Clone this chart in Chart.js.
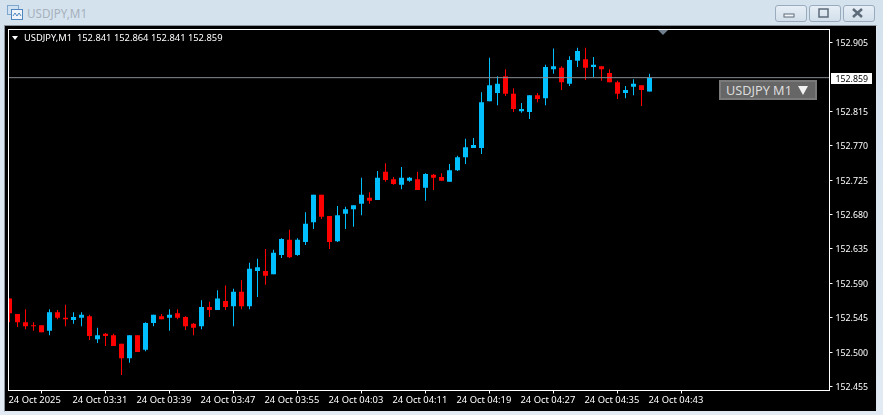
<!DOCTYPE html>
<html>
<head>
<meta charset="utf-8">
<title>USDJPY,M1</title>
<script src="https://cdn.jsdelivr.net/npm/chart.js@4"></script>
<style>
  html, body { margin: 0; padding: 0; }
  body { position: relative; width: 883px; height: 415px; overflow: hidden; background: linear-gradient(#d4e2ee, #e2ebf4); font-family: "Noto Sans", sans-serif; }
  #panel { position: absolute; left: 4px; top: 25px; width: 871px; height: 385px; background: #000; border: 1px solid #8c96a0; border-bottom-color: #dfe8f0; border-right-color: #dfe8f0; }
  #chart { position: absolute; left: 0; top: 0; }
  #caption { position: absolute; left: 27px; top: 5px; font-size: 11.7px; line-height: 16px; color: #a6b1bc; }
  #icon { position: absolute; left: 7px; top: 5px; }
  .btn { position: absolute; top: 5px; width: 30px; height: 15px; border: 1px solid #9aabbd; border-radius: 3px; background: linear-gradient(#e6eef6, #d2dfea); }
  .btn svg { position: absolute; left: 7px; top: 1px; }
  #legendMark { position: absolute; left: 12px; top: 36px; width: 0; height: 0; border-left: 3.5px solid transparent; border-right: 3.5px solid transparent; border-top: 4px solid #fff; }
  #legend { position: absolute; left: 24px; top: 31px; font-size: 9.35px; line-height: 14px; color: #fff; white-space: pre; }
  #shift { position: absolute; left: 658px; top: 30px; width: 0; height: 0; border-left: 5px solid transparent; border-right: 5px solid transparent; border-top: 5px solid #6f7f8e; }
  #symbolBtn { position: absolute; left: 719px; top: 80px; height: 16px; width: 89px; border: 2px solid #7a7a7a; background: #666; color: #dcdcdc; font-size: 12.7px; line-height: 17px; padding-left: 5px; white-space: pre; }
  #symbolBtn b { position: absolute; left: 77px; top: 4px; width: 0; height: 0; border-left: 5px solid transparent; border-right: 5px solid transparent; border-top: 9px solid #f2f2f2; }
</style>
</head>
<body>
<div id="panel"></div>
<svg id="icon" width="16" height="15" viewBox="0 0 16 15">
  <rect x="0.5" y="0.5" width="11" height="9" fill="#cfe0f0" stroke="#7fa6cc"/>
  <rect x="4.5" y="4.5" width="11" height="10" fill="#eef4fa" stroke="#4f86bd"/>
  <polyline points="6,11 8,8 10,11 12,8 14,11" fill="none" stroke="#4f86bd"/>
</svg>
<div id="caption">USDJPY,M1</div>
<div class="btn" style="left:775px"><svg width="16" height="13"><rect x="1" y="7" width="10" height="3" fill="#f4f7fa" stroke="#5d6b79"/></svg></div>
<div class="btn" style="left:809px"><svg width="16" height="13"><rect x="2" y="2" width="9" height="8" fill="none" stroke="#5d6b79" stroke-width="1.5"/></svg></div>
<div class="btn" style="left:843px"><svg width="16" height="13"><path d="M2 2 L11 10 M11 2 L2 10" stroke="#5d6b79" stroke-width="2.5"/></svg></div>
<canvas id="chart" width="883" height="415"></canvas>
<div id="legendMark"></div>
<div id="legend">USDJPY,M1  152.841 152.864 152.841 152.859</div>
<div id="shift"></div>
<div id="symbolBtn">USDJPY M1<b></b></div>
<script>
// one minute candles, 03:23 to 04:43, one tick label every 8 bars
var tickLabels = ['24 Oct 2025', '24 Oct 03:31', '24 Oct 03:39', '24 Oct 03:47', '24 Oct 03:55', '24 Oct 04:03',
    '24 Oct 04:11', '24 Oct 04:19', '24 Oct 04:27', '24 Oct 04:35', '24 Oct 04:43'];
var priceTicks = [152.905, 152.815, 152.770, 152.725, 152.680, 152.635, 152.590, 152.545, 152.500, 152.455];

var opens = [152.570, 152.550, 152.539, 152.535, 152.535, 152.528, 152.552, 152.545, 152.542, 152.545,
    152.547, 152.517, 152.524, 152.522, 152.511, 152.492, 152.522, 152.503, 152.538, 152.547,
    152.545, 152.551, 152.546, 152.537, 152.534, 152.559, 152.555, 152.567, 152.560, 152.579,
    152.560, 152.606, 152.606, 152.602, 152.627, 152.647, 152.627, 152.644, 152.670, 152.706,
    152.678, 152.645, 152.681, 152.687, 152.694, 152.702, 152.699, 152.736, 152.726, 152.719,
    152.724, 152.726, 152.715, 152.732, 152.729, 152.723, 152.738, 152.755, 152.767, 152.767,
    152.828, 152.839, 152.861, 152.838, 152.815, 152.814, 152.836, 152.832, 152.870, 152.872,
    152.851, 152.881, 152.883, 152.873, 152.874, 152.865, 152.853, 152.839, 152.847, 152.849, 152.841];
var highs = [152.570, 152.550, 152.556, 152.539, 152.535, 152.556, 152.555, 152.562, 152.552, 152.552,
    152.549, 152.532, 152.525, 152.524, 152.511, 152.522, 152.522, 152.539, 152.549, 152.550,
    152.556, 152.556, 152.547, 152.538, 152.568, 152.566, 152.581, 152.587, 152.583, 152.594,
    152.617, 152.622, 152.635, 152.634, 152.649, 152.660, 152.649, 152.683, 152.706, 152.706,
    152.678, 152.691, 152.690, 152.692, 152.728, 152.709, 152.737, 152.747, 152.729, 152.742,
    152.729, 152.736, 152.734, 152.733, 152.734, 152.746, 152.757, 152.779, 152.780, 152.840,
    152.885, 152.861, 152.870, 152.845, 152.826, 152.836, 152.839, 152.876, 152.897, 152.874,
    152.887, 152.898, 152.898, 152.886, 152.874, 152.870, 152.855, 152.848, 152.857, 152.849, 152.864];
var lows = [152.539, 152.533, 152.530, 152.528, 152.526, 152.522, 152.543, 152.534, 152.537, 152.534,
    152.516, 152.512, 152.508, 152.508, 152.470, 152.486, 152.500, 152.501, 152.534, 152.543,
    152.528, 152.543, 152.529, 152.522, 152.530, 152.546, 152.555, 152.555, 152.534, 152.556,
    152.556, 152.572, 152.588, 152.602, 152.623, 152.623, 152.626, 152.640, 152.661, 152.674,
    152.635, 152.644, 152.661, 152.664, 152.679, 152.694, 152.699, 152.723, 152.719, 152.713,
    152.723, 152.712, 152.698, 152.712, 152.724, 152.723, 152.737, 152.746, 152.767, 152.759,
    152.828, 152.823, 152.835, 152.814, 152.813, 152.805, 152.827, 152.823, 152.864, 152.843,
    152.848, 152.873, 152.856, 152.860, 152.855, 152.853, 152.831, 152.832, 152.836, 152.822, 152.841];
var closes = [152.551, 152.539, 152.534, 152.534, 152.526, 152.552, 152.545, 152.543, 152.546, 152.549,
    152.521, 152.522, 152.521, 152.508, 152.492, 152.522, 152.500, 152.538, 152.549, 152.543,
    152.549, 152.545, 152.534, 152.532, 152.559, 152.555, 152.570, 152.559, 152.579, 152.560,
    152.609, 152.611, 152.600, 152.630, 152.648, 152.624, 152.647, 152.668, 152.706, 152.677,
    152.644, 152.679, 152.687, 152.692, 152.706, 152.698, 152.728, 152.725, 152.720, 152.728,
    152.728, 152.712, 152.733, 152.728, 152.724, 152.738, 152.755, 152.768, 152.771, 152.827,
    152.849, 152.851, 152.838, 152.818, 152.818, 152.836, 152.831, 152.873, 152.874, 152.853,
    152.882, 152.894, 152.872, 152.876, 152.870, 152.853, 152.838, 152.843, 152.851, 152.843, 152.859];
var lastPrice = 152.859;

var UP = '#00bfff';
var DOWN = '#ff0000';
var barColors = closes.map(function(c, i) { return c > opens[i] ? UP : DOWN; });
var wicks = lows.map(function(l, i) { return { x: i, y: [l, highs[i]] }; });
var bodies = opens.map(function(o, i) { return { x: i, y: [o, closes[i]] }; });

// white frame round the plot and the price tag on the axis
var framePlugin = {
    id: 'frame',
    afterDraw: function(chart) {
        var a = chart.chartArea;
        var c = chart.ctx;
        var y = chart.scales.y.getPixelForValue(lastPrice);
        c.save();
        c.strokeStyle = '#fff';
        c.lineWidth = 1;
        c.strokeRect(a.left, a.top, a.right - a.left, a.bottom - a.top);
        c.fillStyle = '#fff';
        c.fillRect(831, Math.round(y) - 5, 41, 11);
        c.fillStyle = '#000';
        c.font = '8.8px "Noto Sans"';
        c.textBaseline = 'middle';
        c.fillText(lastPrice.toFixed(3), 835.5, Math.round(y) + 1);
        c.restore();
    }
};

new Chart(document.getElementById('chart'), {
    type: 'bar',
    data: {
        datasets: [
            { type: 'line', data: [{ x: -1, y: lastPrice }, { x: 103, y: lastPrice }], borderColor: '#858d94', borderWidth: 1, pointRadius: 0 },
            { data: bodies, backgroundColor: barColors, barThickness: 5, grouped: false, inflateAmount: 0 },
            { data: wicks, backgroundColor: barColors, barThickness: 1, grouped: false, inflateAmount: 0 }
        ]
    },
    options: {
        responsive: false,
        animation: false,
        devicePixelRatio: 1,
        layout: { padding: { left: 8.5, top: 29.5, right: 0, bottom: 0 } },
        plugins: { legend: { display: false }, tooltip: { enabled: false } },
        scales: {
            x: {
                type: 'linear',
                min: -0.125,
                max: 102.5,
                offset: false,
                afterBuildTicks: function(scale) {
                    scale.ticks = tickLabels.map(function(t, k) { return { value: k * 8 }; });
                },
                afterFit: function(scale) { scale.height = 24.5; },
                border: { display: false },
                grid: { drawOnChartArea: false, color: '#fff', tickLength: 3 },
                ticks: {
                    color: '#fff',
                    font: { family: 'Noto Sans', size: 9.4 },
                    padding: 1,
                    align: 'start',
                    labelOffset: -1,
                    maxRotation: 0,
                    autoSkip: false,
                    callback: function(v) { return tickLabels[v / 8]; }
                }
            },
            y: {
                position: 'right',
                min: 152.4498,
                max: 152.922,
                afterBuildTicks: function(scale) {
                    scale.ticks = priceTicks.map(function(v) { return { value: v }; });
                },
                afterFit: function(scale) { scale.width = 53.5; },
                border: { display: false },
                grid: { drawOnChartArea: false, color: '#fff', tickLength: 3 },
                ticks: {
                    color: '#fff',
                    font: { family: 'Noto Sans', size: 8.8 },
                    padding: 3,
                    labelOffset: 1,
                    autoSkip: false,
                    callback: function(v) { return v.toFixed(3); }
                }
            }
        }
    },
    plugins: [framePlugin]
});
</script>
</body>
</html>
